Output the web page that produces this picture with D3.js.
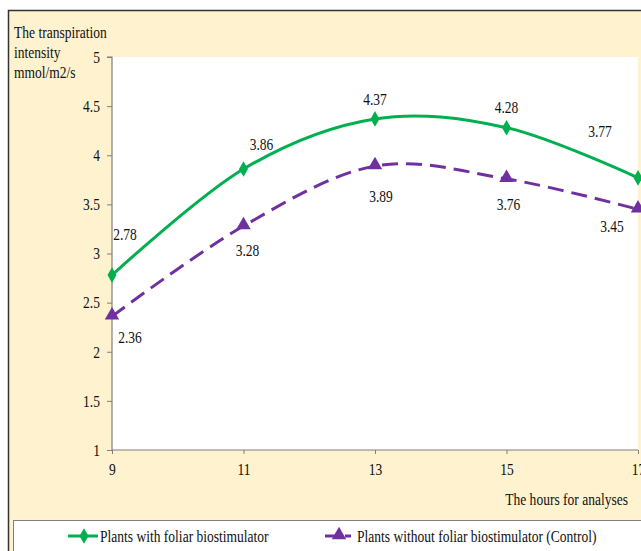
<!DOCTYPE html>
<html>
<head>
<meta charset="utf-8">
<script src="https://cdn.jsdelivr.net/npm/d3@7"></script>
<style>
  html, body { margin: 0; padding: 0; background: #ffffff; }
  svg { display: block; font-family: "Liberation Serif", "Times New Roman", serif; }
</style>
</head>
<body>
<svg id="chart" width="641" height="551"></svg>
<script>
// Hours of measurement
const hours = [9, 11, 13, 15, 17];
// Transpiration intensity, mmol/m2/s
const treated = [2.78, 3.86, 4.37, 4.28, 3.77];
const control = [2.36, 3.28, 3.89, 3.76, 3.45];
const yTicks = [1, 1.5, 2, 2.5, 3, 3.5, 4, 4.5, 5];
const yTickLabels = ["1", "1.5", "2", "2.5", "3", "3.5", "4", "4.5", "5"];
const seriesNames = ["Plants with foliar biostimulator", "Plants without foliar biostimulator (Control)"];
// Label offsets (dx, dy) relative to each point
const treatedLabelOffsets = [[13, -35], [18, -19], [0, -14], [0, -15], [-38, -41]];
const controlLabelOffsets = [[18, 27], [4, 30], [6, 36], [2, 31], [-26, 23]];

const FS = 16.5;   // font size
const SX = 0.82;   // narrow glyph width

const svg = d3.select("#chart");
const W = 641, H = 551;
const plot = { left: 112, top: 57, right: 638, bottom: 450 };

// narrow serif text placed at (x, y)
function label(x, y, text, anchor = "start") {
  return svg.append("text")
    .attr("transform", `translate(${x},${y}) scale(${SX},1)`)
    .attr("text-anchor", anchor).attr("font-size", FS).attr("fill", "#111")
    .text(text);
}

// Outer chart area
svg.append("rect").attr("x", 8).attr("y", 10).attr("width", W - 8).attr("height", H - 10)
  .attr("fill", "#fff2cf");
svg.append("line").attr("x1", 8).attr("x2", W).attr("y1", 10.5).attr("y2", 10.5)
  .attr("stroke", "#333").attr("stroke-width", 1.5);
svg.append("line").attr("x1", 8.5).attr("x2", 8.5).attr("y1", 10).attr("y2", H)
  .attr("stroke", "#333").attr("stroke-width", 1.5);

// Plot area
svg.append("rect").attr("x", plot.left).attr("y", plot.top)
  .attr("width", plot.right - plot.left).attr("height", plot.bottom - plot.top)
  .attr("fill", "#ffffff");

const x = d3.scaleLinear().domain([9, 17]).range([plot.left, plot.right]);
const y = d3.scaleLinear().domain([1, 5]).range([plot.bottom, plot.top]);

// Y axis
const yAxis = d3.axisLeft(y).tickValues(yTicks).tickSize(5).tickPadding(6)
  .tickFormat((d, i) => yTickLabels[i]);
const gy = svg.append("g").attr("transform", `translate(${plot.left},0)`).call(yAxis);
gy.select(".domain").attr("stroke", "#7f7f7f").attr("stroke-width", 1.2).attr("d", `M-5,${plot.top}H0V${plot.bottom}`);
gy.selectAll(".tick line").attr("stroke", "#7f7f7f");
gy.selectAll(".tick text").attr("font-size", FS).attr("fill", "#111")
  .attr("font-family", "Liberation Serif, serif")
  .attr("x", -12 / SX).attr("transform", `scale(${SX},1)`);

// X axis
const xAxis = d3.axisBottom(x).tickValues(hours).tickSize(4).tickPadding(9).tickFormat(d3.format("d"));
const gx = svg.append("g").attr("transform", `translate(0,${plot.bottom})`).call(xAxis);
gx.select(".domain").attr("stroke", "#7f7f7f").attr("stroke-width", 1.2).attr("d", `M${plot.left},0H${plot.right}`);
gx.selectAll(".tick line").attr("stroke", "#7f7f7f");
gx.selectAll(".tick text").attr("font-size", FS).attr("fill", "#111")
  .attr("font-family", "Liberation Serif, serif")
  .attr("transform", `scale(${SX},1)`);

// Axis titles
["The transpiration", "intensity", "mmol/m2/s"].forEach((t, i) => label(14, 38 + i * 20, t));
label(628, 505, "The hours for analyses", "end");

// Lines
const line = d3.line().x((d, i) => x(hours[i])).y(d => y(d)).curve(d3.curveCatmullRom.alpha(0));
const green = "#00b050", purple = "#7030a0";

svg.append("path").datum(treated).attr("d", line).attr("fill", "none")
  .attr("stroke", green).attr("stroke-width", 3);
svg.append("path").datum(control).attr("d", line).attr("fill", "none")
  .attr("stroke", purple).attr("stroke-width", 3).attr("stroke-dasharray", "16,8");

// Markers
const diamond = d3.symbol().type(d3.symbolDiamond).size(70);
const triangle = d3.symbol().type(d3.symbolTriangle).size(90);
svg.selectAll(".m1").data(treated).join("path").attr("class", "m1")
  .attr("d", diamond).attr("fill", green)
  .attr("transform", (d, i) => `translate(${x(hours[i])},${y(d)})`);
svg.selectAll(".m2").data(control).join("path").attr("class", "m2")
  .attr("d", triangle).attr("fill", purple)
  .attr("transform", (d, i) => `translate(${x(hours[i])},${y(d) - 1})`);

// Data labels
treated.forEach((d, i) => label(x(hours[i]) + treatedLabelOffsets[i][0],
  y(d) + treatedLabelOffsets[i][1], d.toFixed(2), "middle"));
control.forEach((d, i) => label(x(hours[i]) + controlLabelOffsets[i][0],
  y(d) + controlLabelOffsets[i][1], d.toFixed(2), "middle"));

// Legend
svg.append("rect").attr("x", 13.5).attr("y", 520.5).attr("width", W).attr("height", 40)
  .attr("fill", "#ffffff").attr("stroke", "#7f7f7f").attr("stroke-width", 1);
const ly = 536;
svg.append("line").attr("x1", 68).attr("x2", 98).attr("y1", ly).attr("y2", ly)
  .attr("stroke", green).attr("stroke-width", 3);
svg.append("path").attr("d", diamond).attr("fill", green).attr("transform", `translate(84,${ly})`);
label(100, ly + 6, seriesNames[0]);
svg.append("line").attr("x1", 325).attr("x2", 355).attr("y1", ly).attr("y2", ly)
  .attr("stroke", purple).attr("stroke-width", 3).attr("stroke-dasharray", "16,4,6,10");
svg.append("path").attr("d", triangle).attr("fill", purple).attr("transform", `translate(339,${ly - 1})`);
label(357, ly + 6, seriesNames[1]);
</script>
</body>
</html>
